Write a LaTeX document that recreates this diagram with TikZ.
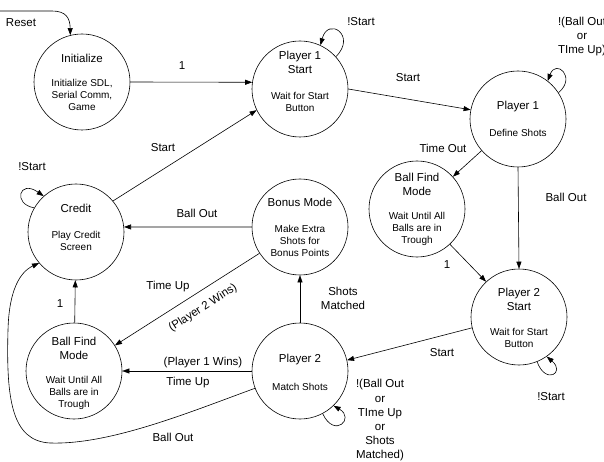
\documentclass[tikz,border=0pt]{standalone}
\usepackage{fontspec}
\setmainfont{Liberation Sans}
\usetikzlibrary{arrows.meta}
\begin{document}
\begin{tikzpicture}[x=1pt,y=1pt,
  state/.style={draw,circle,minimum size=96pt,inner sep=0pt,line width=0.6pt},
  ttl/.style={align=center,font=\fontsize{11.5}{14}\selectfont,inner sep=0pt},
  sub/.style={align=center,font=\fontsize{10}{12}\selectfont,inner sep=0pt},
  lbl/.style={align=center,font=\fontsize{11.5}{14}\selectfont,inner sep=0pt},
  arr/.style={-{Triangle[length=7pt,width=5pt]},line width=0.6pt}]
\useasboundingbox (0,0) rectangle (604,-462);
% states
\node[state] (init) at (82,-82) {};
\node[state] (p1s) at (300,-89) {};
\node[state] (p1) at (518,-119) {};
\node[state] (credit) at (76,-232) {};
\node[state] (bonus) at (300,-227) {};
\node[state] (bfr) at (417,-209) {};
\node[state] (p2s) at (519,-317) {};
\node[state] (bfl) at (74,-371) {};
\node[state] (p2) at (300,-371) {};
% texts
\node[ttl] (initT) at (82,-58) {Initialize};
\node[sub] (initS) at (82,-95) {Initialize SDL,\\Serial Comm,\\Game};
\node[ttl] (p1sT) at (300,-62.5) {Player 1\\Start};
\node[sub] (p1sS) at (300,-102) {Wait for Start\\Button};
\node[ttl] (p1T) at (518,-107) {Player 1};
\node[sub] (p1S) at (518,-133) {Define Shots};
\node[ttl] (creditT) at (76,-208) {Credit};
\node[sub] (creditS) at (76,-241) {Play Credit\\Screen};
\node[ttl] (bonusT) at (300,-202) {Bonus Mode};
\node[sub] (bonusS) at (300,-240.5) {Make Extra\\Shots for\\Bonus Points};
\node[ttl] (bfrT) at (417,-184) {Ball Find\\Mode};
\node[sub] (bfrS) at (417,-229) {Wait Until All\\Balls are in\\Trough};
\node[ttl] (p2sT) at (519,-299) {Player 2\\Start};
\node[sub] (p2sS) at (519,-338) {Wait for Start\\Button};
\node[ttl] (bflT) at (74,-348) {Ball Find\\Mode};
\node[sub] (bflS) at (74,-393) {Wait Until All\\Balls are in\\Trough};
\node[ttl] (p2T) at (300,-360) {Player 2};
\node[sub] (p2S) at (300,-387) {Match Shots};
% reset
\coordinate (rs) at (0,-11);
\draw[arr] (rs) -- (52,-11) .. controls (66,-11) and (70,-18) .. (init.104);
\node[lbl] (rsL) at (21,-23) {Reset};
% edges
\draw[arr] (init.east) -- (p1s.172);
\node[lbl] (l1) at (182,-66) {1};
\draw[arr] (p1s.42) .. controls +(45:30) and +(75:30) .. (p1s.65);
\node[lbl] (l2) at (361,-22) {!Start};
\draw[arr] (p1s.east) -- (p1.169);
\node[lbl] (l3) at (408,-78) {Start};
\draw[arr] (p1.33) .. controls +(40:24) and +(70:24) .. (p1.52);
\node[lbl] (l4) at (582,-37) {!(Ball Out\\or\\TIme Up)};
\draw[arr] (p1.221) -- (bfr.42);
\node[lbl] (l5) at (443,-148) {Time Out};
\draw[arr] (p1.south) -- (p2s.north);
\node[lbl] (l6) at (566,-197) {Ball Out};
\draw[arr] (bfr.-47) -- (p2s.133);
\node[lbl] (l7) at (447,-265) {1};
\draw[arr] (p2s.-68) .. controls +(-70:25) and +(-40:25) .. (p2s.-55);
\node[lbl] (l8) at (551,-397) {!Start};
\draw[arr] (p2s.193) -- (p2.13);
\node[lbl] (l9) at (442,-353) {Start};
\draw[arr] (p2.-62) .. controls +(-65:28) and +(-30:25) .. (p2.-46);
\node[lbl,font=\fontsize{11.5}{14.2}\selectfont] (l10) at (380,-420.5) {!(Ball Out\\or\\TIme Up\\or\\Shots\\Matched)};
\draw[arr] (p2.north) -- (bonus.south);
\node[lbl] (l11) at (343,-298) {Shots\\Matched};
\draw[arr] (p2.west) -- (bfl.east);
\node[lbl] (l12) at (203,-363) {(Player 1 Wins)};
\node[lbl] (l13) at (188,-383) {Time Up};
\draw[arr] (bonus.213) -- (bfl.32);
\node[lbl,rotate=33] (l14) at (203,-308) {(Player 2 Wins)};
\node[lbl] (l15) at (168,-287) {Time Up};
\draw[arr] (bonus.west) -- (credit.6);
\node[lbl] (l16) at (197,-213) {Ball Out};
\draw[arr] (credit.40) -- (p1s.206);
\node[lbl] (l17) at (163,-148) {Start};
\draw[arr] (credit.150) .. controls +(170:22) and +(145:30) .. (credit.132);
\node[lbl] (l18) at (32,-167) {!Start};
\draw[arr] (bfl) -- (credit);
\node[lbl] (l19) at (60,-304) {1};
\coordinate (bo1) at (50,-443);
\coordinate (bo2) at (8,-330);
\draw[arr] (p2.201) .. controls (190,-412) and (110,-445) .. (bo1)
  .. controls (12,-441) and (6,-400) .. (bo2)
  .. controls (9,-290) and (20,-272) .. (credit.220);
\node[lbl] (l20) at (173,-437) {Ball Out};
\end{tikzpicture}
\end{document}
